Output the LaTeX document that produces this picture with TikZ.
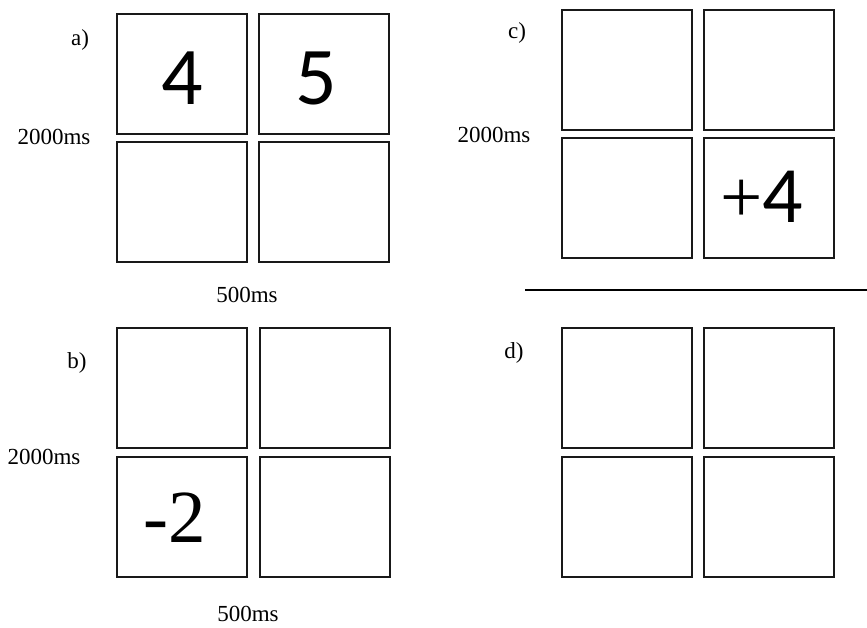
\documentclass[tikz,border=0pt]{standalone}
\usepackage{fontspec}
\setmainfont{Liberation Serif}
\newfontfamily\calib{Carlito}
\begin{document}
\begin{tikzpicture}[x=1pt,y=-1pt,
  cell/.style={draw=black!90, line width=2pt, minimum width=130pt, minimum height=120pt, inner sep=0pt},
  lbl/.style={inner sep=0pt, font=\fontsize{23}{26}\selectfont},
  bigsans/.style={inner sep=0pt, font=\calib\fontsize{82}{90}\selectfont},
  bigserif/.style={inner sep=0pt, font=\fontsize{75}{84}\selectfont}]
\useasboundingbox (0,0) rectangle (867,627);
% panel a
\node[cell] (a11) at (182,74) {};
\node[cell] (a12) at (324,74) {};
\node[cell] (a21) at (182,202) {};
\node[cell] (a22) at (324,202) {};
\node[bigsans] (a4) at (182,78) {4};
\node[bigsans] (a5) at (316,78) {5};
\node[lbl] (alab) at (80,40) {a)};
\node[lbl] (at1) at (54,137) {2000ms};
\node[lbl] (at2) at (247,295) {500ms};
% panel c
\node[cell] (c11) at (626.5,70) {};
\node[cell] (c12) at (768.5,70) {};
\node[cell] (c21) at (626.5,198) {};
\node[cell] (c22) at (768.5,198) {};
\node[inner sep=0pt] (c4) at (762,197) {\fontsize{75}{84}\selectfont +\calib\fontsize{80}{88}\selectfont 4};
\node[lbl] (clab) at (517,33) {c)};
\node[lbl] (ct1) at (494,135) {2000ms};
% separator
\coordinate (sepL) at (525,290);
\coordinate (sepR) at (867,290);
\draw[line width=1.5pt] (sepL) -- (sepR);
% panel b
\node[cell] (b11) at (182,388) {};
\node[cell] (b12) at (324.5,388) {};
\node[cell] (b21) at (182,516.5) {};
\node[cell] (b22) at (324.5,516.5) {};
\node[bigserif] (b2) at (175,518) {-2};
\node[lbl] (blab) at (77,363) {b)};
\node[lbl] (bt1) at (44,457) {2000ms};
\node[lbl] (bt2) at (248,614) {500ms};
% panel d
\node[cell] (d11) at (626.5,388) {};
\node[cell] (d12) at (768.5,388) {};
\node[cell] (d21) at (626.5,516.5) {};
\node[cell] (d22) at (768.5,516.5) {};
\node[lbl] (dlab) at (514,353) {d)};
\end{tikzpicture}
\end{document}
